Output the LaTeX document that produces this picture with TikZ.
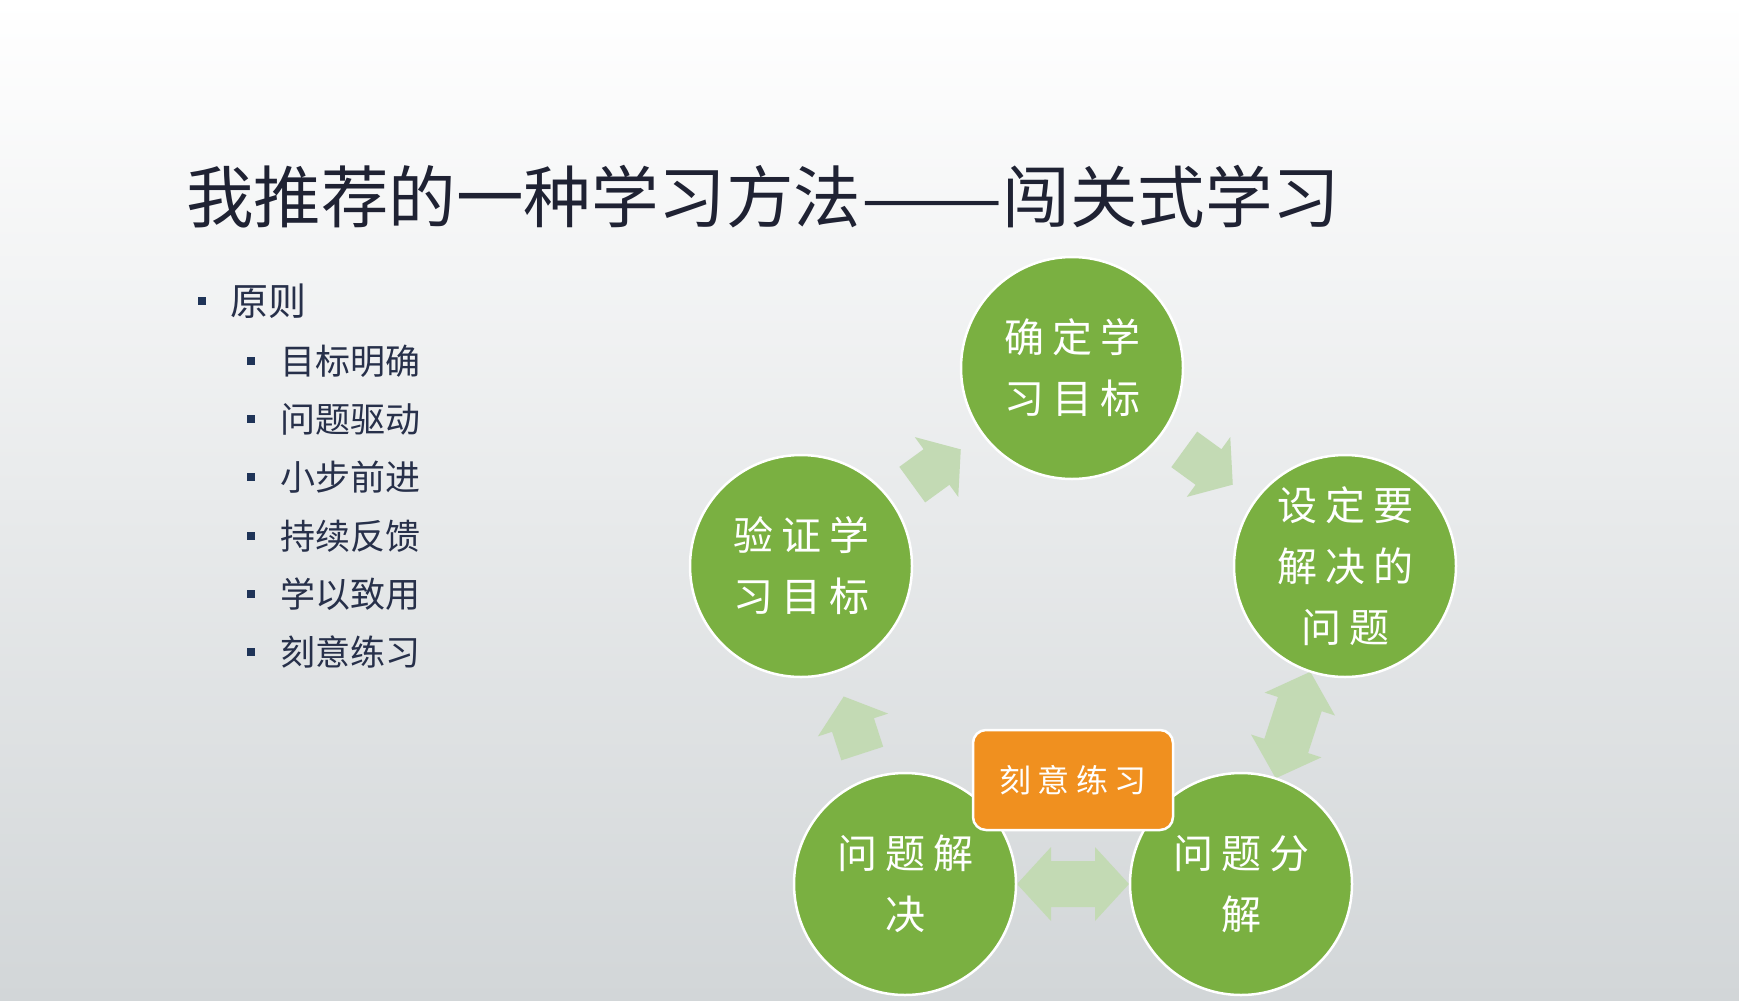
\documentclass[tikz,border=0pt]{standalone}
\usepackage{fontspec}
\usepackage{graphicx}
\usetikzlibrary{calc}
\setmainfont{Noto Sans CJK SC}
\newfontfamily\cjkspaced[LetterSpace=20]{Noto Sans CJK SC}
\definecolor{cgreen}{HTML}{7AB041}
\definecolor{corange}{HTML}{F0901F}
\definecolor{carrow}{HTML}{C3DAB4}
\definecolor{ctitle}{HTML}{1F2233}
\definecolor{ctext}{HTML}{27304A}
\definecolor{cbullet}{HTML}{1F3458}
\definecolor{cbgbot}{HTML}{D2D6D8}
\tikzset{
  cyc/.style={circle, minimum size=222pt, inner sep=0pt, fill=cgreen, draw=white,
    line width=2.5pt, text=white, align=center,
    font=\cjkspaced\fontsize{40}{61}\selectfont},
  obox/.style={rectangle, rounded corners=13pt, minimum width=200pt, minimum height=100pt,
    inner sep=0pt, fill=corange, draw=white, line width=2.5pt, text=white,
    font=\cjkspaced\fontsize{32}{40}\selectfont},
  bul/.style={rectangle, minimum size=8pt, inner sep=0pt, fill=cbullet},
  lvlone/.style={anchor=west, inner sep=0pt, text=ctext, font=\fontsize{38}{46}\selectfont},
  lvltwo/.style={anchor=west, inner sep=0pt, text=ctext, font=\fontsize{35}{42}\selectfont},
  onearrow/.pic={\fill[carrow] (-30,-22) -- (0,-22) -- (0,-37) -- (30,0) -- (0,37) -- (0,22) -- (-30,22) -- cycle;},
  twoarrow/.pic={\fill[carrow] (-56,0) -- (-22,-37) -- (-22,-23) -- (22,-23) -- (22,-37) -- (56,0) -- (22,37) -- (22,23) -- (-22,23) -- (-22,37) -- cycle;}
}
\begin{document}
\begin{tikzpicture}[x=1pt,y=-1pt]
\useasboundingbox (0,0) rectangle (1739,1007);
% background
\fill[white] (0,0) rectangle (1739,1007);
\shade[top color=white, bottom color=cbgbot] (0,0) rectangle (1739,1000);

% title
\node[anchor=west, inner sep=0pt, text=ctitle, font=\fontsize{67.5}{80}\selectfont] (title) at (186,197) {我推荐的一种学习方法\scalebox{1.25}[1]{——}闯关式学习};

% bullet list
\node[bul] (b0) at (202,301) {};
\node[lvlone] (t0) at (230,301) {原则};
\node[bul] (b1) at (251,361) {};
\node[lvltwo] (t1) at (280,361) {目标明确};
\node[bul] (b2) at (251,419) {};
\node[lvltwo] (t2) at (280,419) {问题驱动};
\node[bul] (b3) at (251,477) {};
\node[lvltwo] (t3) at (280,477) {小步前进};
\node[bul] (b4) at (251,536) {};
\node[lvltwo] (t4) at (280,536) {持续反馈};
\node[bul] (b5) at (251,594) {};
\node[lvltwo] (t5) at (280,594) {学以致用};
\node[bul] (b6) at (251,652) {};
\node[lvltwo] (t6) at (280,652) {刻意练习};

% cycle positions
\coordinate (pqd) at (1072,368);
\coordinate (psd) at (1345,566);
\coordinate (pfj) at (1241,884);
\coordinate (pjj) at (905,884);
\coordinate (pyz) at (801,566);

% arrows
\pic[rotate=36] (a1) at ($(pyz)!0.5!(pqd)$) {onearrow};
\pic[rotate=-36] (a2) at ($(pqd)!0.5!(psd)$) {onearrow};
\pic[rotate=72] (a3) at ($(psd)!0.5!(pfj)$) {twoarrow};
\pic[rotate=0] (a4) at ($(pjj)!0.5!(pfj)$) {twoarrow};
\pic[rotate=108] (a5) at ($(pjj)!0.5!(pyz)$) {onearrow};

% circles
\node[cyc] (qd) at (pqd) {确定学\\习目标};
\node[cyc] (sd) at (psd) {设定要\\解决的\\问题};
\node[cyc] (fj) at (pfj) {问题分\\解};
\node[cyc] (jj) at (pjj) {问题解\\决};
\node[cyc] (yz) at (pyz) {验证学\\习目标};

% center box
\node[obox] (lx) at (1073,780) {刻意练习};
\end{tikzpicture}
\end{document}
